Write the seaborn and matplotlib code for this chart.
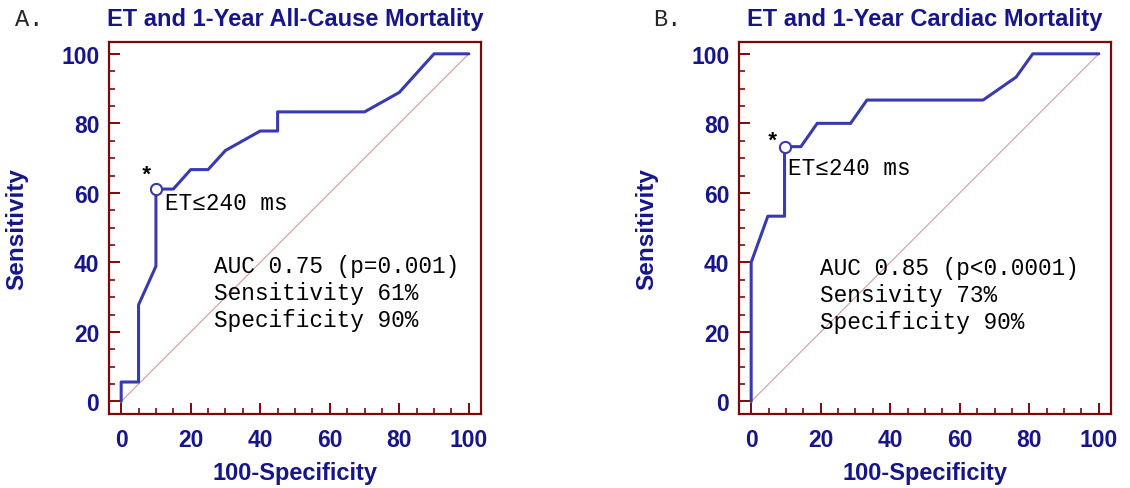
import matplotlib
matplotlib.use("Agg")
import matplotlib.pyplot as plt
from matplotlib.ticker import MultipleLocator
import seaborn as sns
import pandas as pd

# ROC curve points (100-Specificity, Sensitivity)
fpr_a = [0, 0, 5, 5, 10, 10, 15, 20, 25, 30, 40, 45, 45, 70, 80, 90, 100]
tpr_a = [0, 5.6, 5.6, 27.8, 38.9, 61.1, 61.1, 66.7, 66.7, 72.2, 77.8, 77.8, 83.3, 83.3, 88.9, 100, 100]
fpr_b = [0, 0, 4.8, 9.6, 9.6, 14.3, 19.0, 28.6, 33.3, 66.7, 76.2, 81.0, 100]
tpr_b = [0, 40.0, 53.3, 53.3, 73.3, 73.3, 80.0, 80.0, 86.7, 86.7, 93.3, 100, 100]

cut_a = (10, 61.1)
cut_b = (9.8, 73.3)

titles = ["ET and 1-Year All-Cause Mortality", "ET and 1-Year Cardiac Mortality"]
panel_tags = ["A.", "B."]
stats_a = ["AUC 0.75 (p=0.001)", "Sensitivity 61%", "Specificity 90%"]
stats_b = ["AUC 0.85 (p<0.0001)", "Sensivity 73%", "Specificity 90%"]
cut_label = "ET\u2264240 ms"

NAVY = "#16168a"
CURVE = "#3a3ab0"
FRAME = "#7a0a0a"
DIAG = "#d98c8c"
MONO = ["Liberation Mono", "DejaVu Sans Mono"]

sns.set_style("white")
plt.rcParams["font.family"] = ["Liberation Sans", "DejaVu Sans"]


def draw_panel(ax, fpr, tpr, cut, stats, star_xy, cut_xy, stats_x, stats_y, title):
    df = pd.DataFrame({"fpr": fpr, "tpr": tpr})
    diag = pd.DataFrame({"fpr": [0, 100], "tpr": [0, 100]})
    sns.lineplot(data=diag, x="fpr", y="tpr", ax=ax, color=DIAG, linewidth=0.7,
                 sort=False, estimator=None)
    sns.lineplot(data=df, x="fpr", y="tpr", ax=ax, color=CURVE, linewidth=2.2,
                 sort=False, estimator=None)
    ax.scatter([cut[0]], [cut[1]], s=65, facecolor="white", edgecolor=CURVE,
               linewidth=1.5, zorder=5)

    ax.text(star_xy[0], star_xy[1], "*", family=MONO, fontsize=16, fontweight="bold",
            ha="center", va="center", color="black")
    ax.text(cut_xy[0], cut_xy[1], cut_label, family=MONO, fontsize=16.3,
            ha="left", va="center", color="black")
    for i, line in enumerate(stats):
        ax.text(stats_x, stats_y - i * 7.7, line, family=MONO, fontsize=16.4,
                ha="left", va="center", color="black")

    ax.set_xlim(-3.5, 103.5)
    ax.set_ylim(-3.6, 103.4)
    ax.xaxis.set_major_locator(MultipleLocator(20))
    ax.yaxis.set_major_locator(MultipleLocator(20))
    ax.xaxis.set_minor_locator(MultipleLocator(5))
    ax.yaxis.set_minor_locator(MultipleLocator(5))
    ax.tick_params(which="major", direction="in", length=8, width=1.4, color=FRAME,
                   labelsize=16.5, labelcolor=NAVY, pad=7, bottom=True, left=True)
    ax.tick_params(axis="x", which="major", pad=10)
    ax.tick_params(which="minor", direction="in", length=4, width=1.2, color=FRAME,
                   bottom=True, left=True)
    for lab in ax.get_xticklabels() + ax.get_yticklabels():
        lab.set_fontweight("bold")
    for s in ax.spines.values():
        s.set_color(FRAME)
        s.set_linewidth(1.6)
        s.set_visible(True)

    ax.set_xlabel("100-Specificity", fontsize=17, fontweight="bold", color=NAVY)
    ax.set_ylabel("Sensitivity", fontsize=17.5, fontweight="bold", color=NAVY)
    ax.xaxis.set_label_coords(0.5, -0.126)
    ax.yaxis.set_label_coords(-0.218, 0.5)
    ax.set_title(title, fontsize=17, fontweight="bold", color=NAVY, pad=12)


fig = plt.figure(figsize=(11.3, 4.89), dpi=100)
ax_a = fig.add_axes([109 / 1130, 74 / 489, 372 / 1130, 372 / 489])
ax_b = fig.add_axes([739 / 1130, 74 / 489, 372 / 1130, 372 / 489])

draw_panel(ax_a, fpr_a, tpr_a, cut_a, stats_a, (7.2, 65.0), (12.5, 57.2), 26.8, 39.0, titles[0])
draw_panel(ax_b, fpr_b, tpr_b, cut_b, stats_b, (6.2, 75.0), (10.5, 67.2), 19.8, 38.5, titles[1])

fig.text(15 / 1130, 1 - 20 / 489, panel_tags[0], family=MONO, fontsize=17, ha="left", va="center")
fig.text(653 / 1130, 1 - 20 / 489, panel_tags[1], family=MONO, fontsize=17, ha="left", va="center")

fig.savefig("out.png", dpi=100)
